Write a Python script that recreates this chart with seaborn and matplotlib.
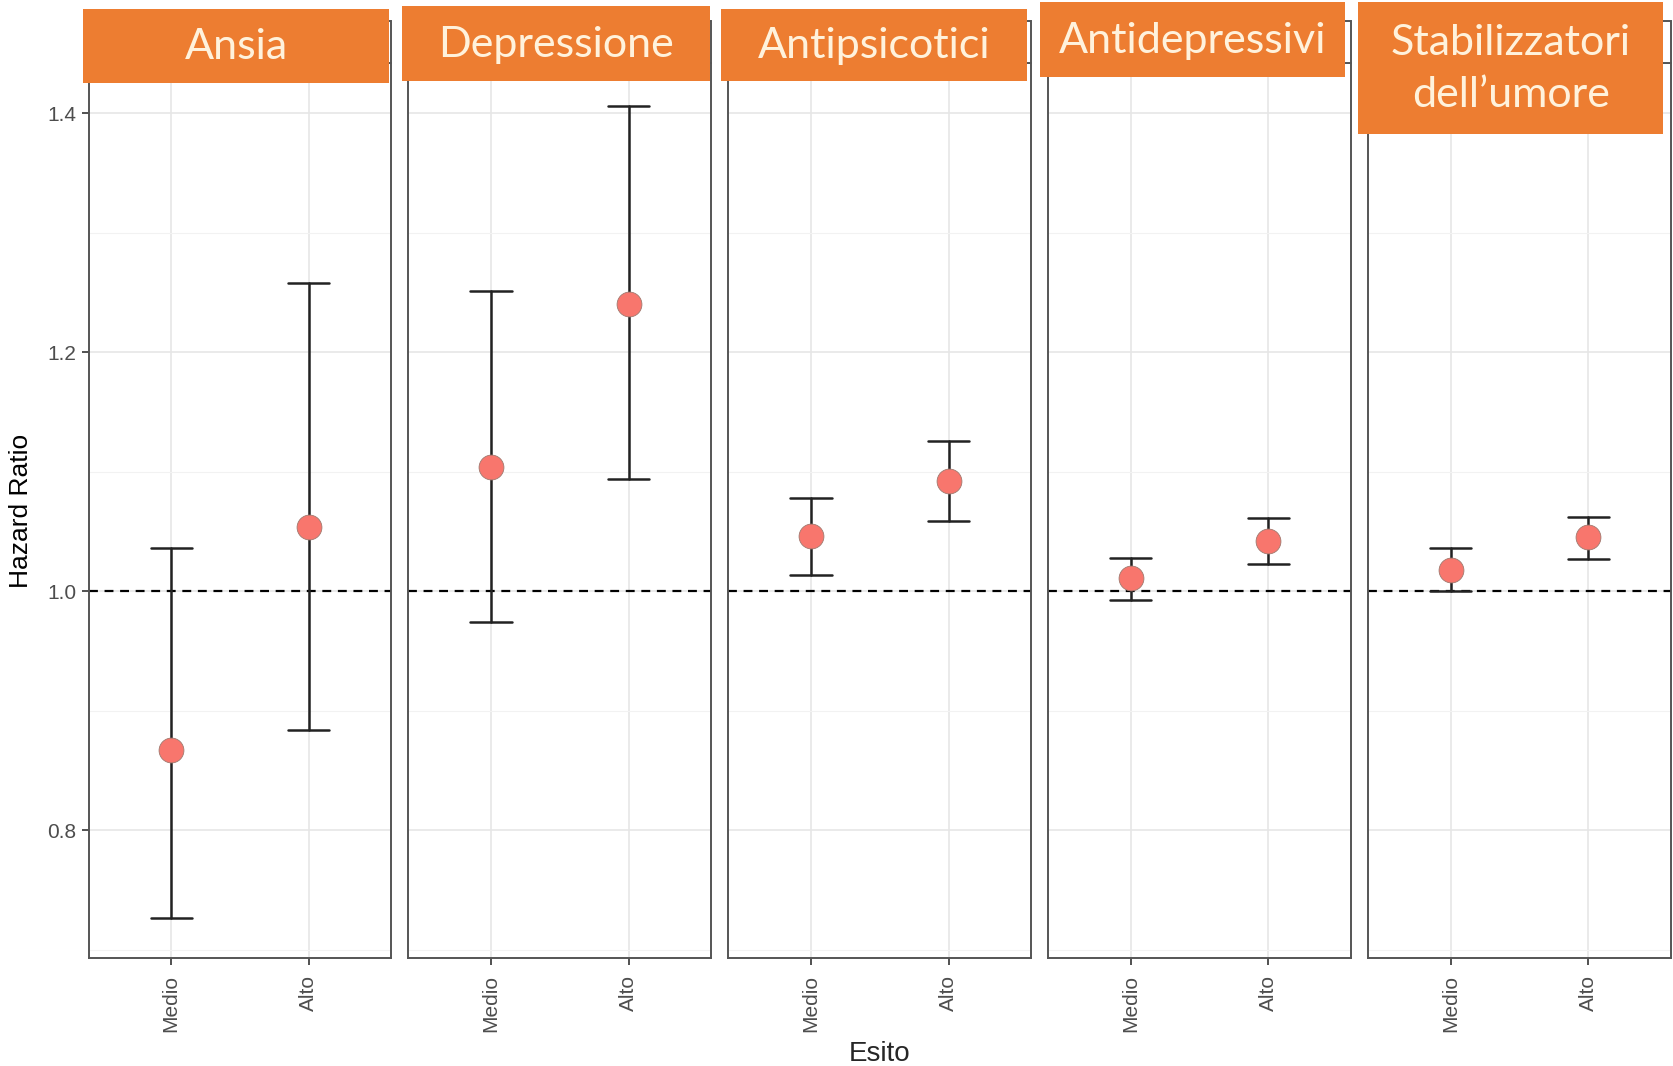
import pandas as pd
import matplotlib.pyplot as plt
import seaborn as sns
from matplotlib.patches import Rectangle

# Data
gruppi = ['Ansia', 'Depressione', 'Antipsicotici', 'Antidepressivi', 'Stabilizzatori\ndell\u2019umore']
esiti = ['Medio', 'Alto']
hr = [0.867, 1.054, 1.104, 1.240, 1.046, 1.092, 1.011, 1.042, 1.018, 1.045]
ci_low = [0.727, 0.884, 0.974, 1.094, 1.014, 1.059, 0.993, 1.023, 1.000, 1.027]
ci_high = [1.036, 1.258, 1.251, 1.406, 1.078, 1.126, 1.028, 1.061, 1.036, 1.062]

df = pd.DataFrame({
    'gruppo': [g for g in gruppi for _ in esiti],
    'esito': esiti * len(gruppi),
    'hr': hr, 'low': ci_low, 'high': ci_high,
})
df['pos'] = df['esito'].map({e: i for i, e in enumerate(esiti)})

sns.set_theme(style='white')
plt.rcParams['font.family'] = ['Liberation Sans', 'DejaVu Sans']

W, H = 1568, 999  # reference coordinates used for layout
fig, axes = plt.subplots(1, 5, figsize=(16.73, 10.66), dpi=100, sharey=True)
fig.subplots_adjust(left=83 / W, right=1566 / W, bottom=1 - 898 / H, top=1 - 59 / H, wspace=0.056)

for i, (ax, g) in enumerate(zip(axes, gruppi)):
    d = df[df['gruppo'] == g]
    ax.set_ylim(0.693, 1.442)
    ax.set_xlim(-0.6, 1.6)
    ax.set_yticks([0.8, 1.0, 1.2, 1.4])
    ax.set_yticks([0.7, 0.9, 1.1, 1.3], minor=True)
    ax.grid(True, which='major', color='#e6e6e6', lw=1.2)
    ax.grid(True, which='minor', color='#f2f2f2', lw=0.8)
    ax.set_axisbelow(True)
    ax.axhline(1.0, color='black', ls=(0, (4, 3)), lw=1.6, zorder=2)
    for _, r in d.iterrows():
        ax.plot([r['pos'], r['pos']], [r['low'], r['high']], color='#222222', lw=1.8, zorder=3)
        for yv in (r['low'], r['high']):
            ax.plot([r['pos'] - 0.15, r['pos'] + 0.15], [yv, yv], color='#222222', lw=1.8, zorder=3)
    sns.scatterplot(data=d, x='pos', y='hr', ax=ax, s=320, color='#F8766D',
                    edgecolor='#a07a70', linewidth=0.6, zorder=4, legend=False)
    ax.set_xticks([0, 1])
    ax.set_xticklabels(esiti, rotation=90, color='#4d4d4d', fontsize=15)
    ax.tick_params(axis='x', length=5, width=1.2, color='#333333', bottom=True, pad=7)
    ax.tick_params(axis='y', length=5, width=1.2, color='#333333', left=(i == 0),
                   labelsize=15, labelcolor='#4d4d4d', pad=4)
    ax.tick_params(axis='y', which='minor', left=False)
    ax.set_xlabel('')
    ax.set_ylabel('')
    for s in ax.spines.values():
        s.set_color('#555555')
        s.set_linewidth(1.4)

axes[0].set_ylabel('Hazard Ratio', fontsize=19, color='black', labelpad=10)
fig.text((83 + 1566) / 2 / W, 1 - 988 / H, 'Esito', ha='center', va='center', fontsize=20)

# underlying strip frames
for ax in axes:
    p = ax.get_position()
    fig.patches.append(Rectangle((p.x0, p.y1), p.width, (59 - 20) / H, transform=fig.transFigure,
                                 facecolor='white', edgecolor='#555555', lw=1.4, zorder=1))

# orange header boxes (x0, x1, y0, y1 in reference pixels)
boxes = [(78, 365, 8, 78), (377, 665, 6, 76), (676, 963, 8, 76), (975, 1261, 2, 72), (1273, 1559, 2, 126)]
for g, (x0, x1, y0, y1) in zip(gruppi, boxes):
    fig.patches.append(Rectangle((x0 / W, 1 - y1 / H), (x1 - x0) / W, (y1 - y0) / H,
                                 transform=fig.transFigure, facecolor='#ED7D31', edgecolor='none', zorder=5))
    fig.text((x0 + x1) / 2 / W, 1 - ((y0 + y1) / 2 + 1) / H, g, ha='center', va='center',
             fontsize=31, color='#FFF2DC', family=['Lato', 'DejaVu Sans'], linespacing=1.45, zorder=6)

fig.savefig('out.png', dpi=100)
